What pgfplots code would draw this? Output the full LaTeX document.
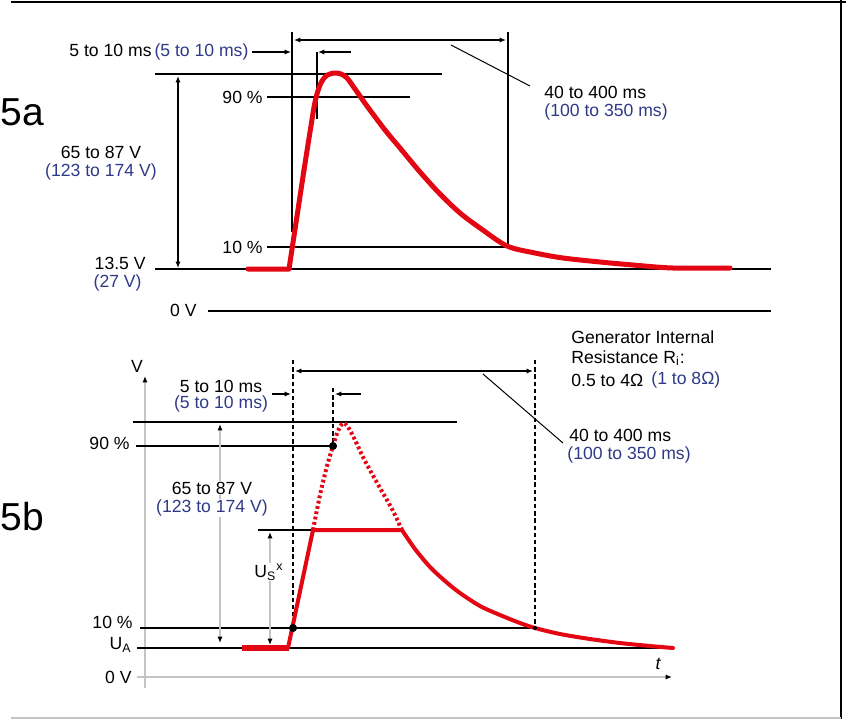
\documentclass[border=0pt]{standalone}
\usepackage{pgfplots}
\pgfplotsset{compat=1.18}
\usetikzlibrary{arrows.meta}
\usepackage{fontspec}
\setmainfont{Liberation Sans}
\definecolor{pred}{HTML}{E30613}
\definecolor{pblue}{HTML}{2E3A87}
\definecolor{pgray}{HTML}{C4C4C4}
\tikzset{
  blk/.style={black, line width=0.65pt},
  gr/.style={pgray, line width=1pt},
  ah/.style={-{Latex[length=3.2pt,width=2.6pt,black]}},
  ha/.style={{Latex[length=3.2pt,width=2.6pt,black]}-},
  hh/.style={{Latex[length=3.2pt,width=2.6pt,black]}-{Latex[length=3.2pt,width=2.6pt,black]}},
  dsh/.style={black, line width=0.6pt, dash pattern=on 2.2pt off 1.4pt},
  rc/.style={pred, line width=2.5pt, line cap=round, line join=round},
  lab/.style={inner sep=0.5pt},
}
\begin{document}
\begin{tikzpicture}[font=\fontsize{8.8}{10}\selectfont]
\begin{axis}[name=ax, scale only axis, width=423pt, height=359.5pt,
  xmin=0, xmax=846, ymin=0, ymax=719, y dir=reverse, hide axis, clip=false]
% ---------- frame ----------
\addplot[black, line width=1.1pt] coordinates {(11,1.6) (846,1.6)};
\addplot[black, line width=0.8pt] coordinates {(841,0) (841,719)};
\addplot[pgray, line width=0.8pt] coordinates {(11,718) (841,718)};

% ================= 5a =================
\addplot[blk] coordinates {(292,32) (292,232)};
\addplot[blk] coordinates {(508,32) (508,246)};
\addplot[blk, hh] coordinates {(294,40) (506,40)};
\addplot[blk, ah] coordinates {(252,52) (291,52)};
\addplot[blk, ah] coordinates {(351,52) (318,52)};
\addplot[blk] coordinates {(317,52) (317,119)};
\addplot[blk] coordinates {(155,74) (442,74)};
\addplot[blk] coordinates {(267,97) (410,97)};
\addplot[blk] coordinates {(267,247) (507,247)};
\addplot[blk] coordinates {(155,269) (771,269)};
\addplot[blk, hh] coordinates {(178,76) (178,268)};
\addplot[blk] coordinates {(208,311) (771,311)};
\addplot[black, line width=0.5pt] coordinates {(451,45) (530,86)};
% red curve 5a
\addplot[rc] coordinates {(248,269) (289,269) (304,170)};
\addplot[rc, smooth, tension=0.5] coordinates {
 (304,170) (310,132) (315,102) (320,85) (326,76) (334,73) (341,74) (347,78)
 (355,89) (367,106) (385,130) (400,148) (420,172) (440,194) (460,213)
 (480,228) (507,246) (535,253) (563,258) (600,262) (633,265) (673,268) (730,268)};

\node[anchor=west, lab] at (axis cs:68,52) {5 to 10 ms\,\textcolor{pblue}{(5 to 10 ms)}};
\node[anchor=east, lab] at (axis cs:264,97) {90 \%};
\node[anchor=east, lab] at (axis cs:264,247) {10 \%};
\node[lab] at (axis cs:101,152) {65 to 87 V};
\node[lab, text=pblue] at (axis cs:101,172) {(123 to 174 V)};
\node[anchor=east, lab] at (axis cs:147,263) {13.5 V};
\node[anchor=east, lab, text=pblue] at (axis cs:143,283) {(27 V)};
\node[anchor=east, lab] at (axis cs:198,310) {0 V};
\node[anchor=west, lab] at (axis cs:543,92) {40 to 400 ms};
\node[anchor=west, lab, text=pblue] at (axis cs:543,112) {(100 to 350 ms)};
\node[anchor=west, inner sep=0pt, font=\fontsize{19.5}{22}\selectfont] at (axis cs:0,112) {5a};

% ================= 5b =================
\addplot[gr, -{Latex[length=3.2pt,width=2.6pt,black]}] coordinates {(145,688) (145,376)};
\addplot[gr, -{Latex[length=3.2pt,width=2.6pt,black]}] coordinates {(137,677) (672,677)};
\addplot[blk] coordinates {(137,648) (672,648)};
\addplot[blk] coordinates {(140,628) (535,628)};
\addplot[blk] coordinates {(136,446) (333,446)};
\addplot[blk] coordinates {(133,422) (457,422)};
\addplot[blk] coordinates {(258,530) (313,530)};
\addplot[dsh] coordinates {(293,360) (293,630)};
\addplot[dsh] coordinates {(535,360) (535,628)};
\addplot[dsh] coordinates {(333,388) (333,446)};
\addplot[blk, hh] coordinates {(295,371) (533,371)};
\addplot[blk, ah] coordinates {(361,394) (335,394)};
\addplot[blk, ah] coordinates {(272,394) (291,394)};
\addplot[gr, line width=0.7pt, hh] coordinates {(220,424) (220,643)};
\addplot[gr, line width=0.7pt, hh] coordinates {(270,532) (270,645)};
\addplot[black, line width=0.5pt] coordinates {(483,374) (563,443)};
% red curve 5b
\addplot[pred, line width=3pt] coordinates {(242,648) (289,648)};
\addplot[rc, line width=2pt, line cap=butt, line join=miter] coordinates {(288,648) (313,530) (402,530)};
\addplot[rc, line width=2pt, smooth, tension=0.5] coordinates {
 (402,530) (415,549) (430,567) (445,581) (460,593) (480,606) (500,615)
 (520,623) (535,628) (560,634) (590,639) (620,643) (650,646) (673,648)};
\addplot[pred, line width=2pt, dash pattern=on 1.4pt off 1.3pt, smooth, tension=0.5] coordinates {
 (313,530) (320,495) (327,466) (333,446) (338,431) (343,423) (348,427)
 (355,440) (365,461) (380,488) (392,509) (402,530)};
% dots
\addplot[only marks, mark=*, mark size=1.8pt, black] coordinates {(293,628) (333,446)};
\addplot[only marks, mark=*, mark size=0.9pt, black] coordinates {(535,628)};

\node[lab] at (axis cs:137,366) {V};
\node[lab] at (axis cs:221,386) {5 to 10 ms};
\node[lab, text=pblue] at (axis cs:221,404) {(5 to 10 ms)};
\node[anchor=east, lab] at (axis cs:131,443) {90 \%};
\node[lab, fill=white] at (axis cs:212,488) {65 to 87 V};
\node[lab, fill=white, text=pblue] at (axis cs:212,508) {(123 to 174 V)};
\node[lab, fill=white] at (axis cs:269,572) {U\textsubscript{S}\textsuperscript{x}};
\node[anchor=east, lab] at (axis cs:134,622) {10 \%};
\node[anchor=east, lab] at (axis cs:133,645) {U\textsubscript{A}};
\node[anchor=east, lab] at (axis cs:133,677) {0 V};
\node[lab] at (axis cs:658,664) {\itshape t};
\node[anchor=west, lab] at (axis cs:570,337) {Generator Internal};
\node[anchor=west, lab] at (axis cs:570,358) {Resistance R\textsubscript{i}:};
\node[anchor=west, lab] at (axis cs:570,380) {0.5 to 4Ω};
\node[anchor=west, lab, text=pblue] at (axis cs:650,380) {(1 to 8Ω)};
\node[anchor=west, lab] at (axis cs:568,435) {40 to 400 ms};
\node[anchor=west, lab, text=pblue] at (axis cs:566,455) {(100 to 350 ms)};
\node[anchor=west, inner sep=0pt, font=\fontsize{19.5}{22}\selectfont] at (axis cs:0,517) {5b};
\end{axis}
\pgfresetboundingbox
\path (ax.south west) rectangle (ax.north east);
\end{tikzpicture}
\end{document}
